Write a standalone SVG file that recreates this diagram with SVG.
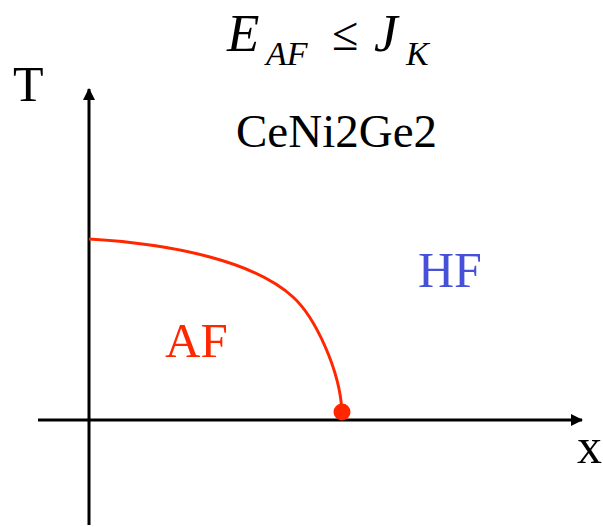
<svg xmlns="http://www.w3.org/2000/svg" width="603" height="527" viewBox="0 0 603 527">
<style>
.t{font-family:"Liberation Serif","Times New Roman",serif;fill:#000}
.i{font-style:italic}
.axis{stroke:#000;stroke-width:3;fill:none}
.red{fill:#FF2600}
</style>
<defs>
<marker id="ah" markerWidth="12" markerHeight="12" refX="11" refY="6" orient="auto" markerUnits="userSpaceOnUse">
<path d="M0,0 L12,6 L0,12 Z" fill="#000"/>
</marker>
</defs>
<rect width="603" height="527" fill="#fff"/>
<g id="title">
<text class="t i" x="227" y="51" font-size="53">E</text>
<text class="t i" x="266" y="65" font-size="34">AF</text>
<text class="t" x="332" y="50" font-size="48">≤</text>
<text class="t i" x="374" y="51" font-size="53">J</text>
<text class="t i" x="406" y="65" font-size="34">K</text>
</g>
<g id="compound"><text class="t" x="236" y="147" font-size="47">CeNi2Ge2</text></g>
<g id="axes">
<line class="axis" x1="89" y1="525" x2="89" y2="89" marker-end="url(#ah)"/>
<line class="axis" x1="38" y1="420" x2="582" y2="420" marker-end="url(#ah)"/>
</g>
<g id="labelT"><text class="t" x="13" y="101" font-size="50">T</text></g>
<g id="labelx"><text class="t" x="577" y="463" font-size="50">x</text></g>
<g id="boundary">
<path d="M89,239 C175,244 255,262 293,297 C315,317 340,370 342,412" fill="none" stroke="#FF2600" stroke-width="3"/>
<circle class="red" cx="342" cy="412" r="8.5"/>
</g>
<g id="AF"><text class="t" x="165" y="357" font-size="49" style="fill:#FF2600">AF</text></g>
<g id="HF"><text class="t" x="418" y="287" font-size="50" style="fill:#4650D8">HF</text></g>
</svg>
